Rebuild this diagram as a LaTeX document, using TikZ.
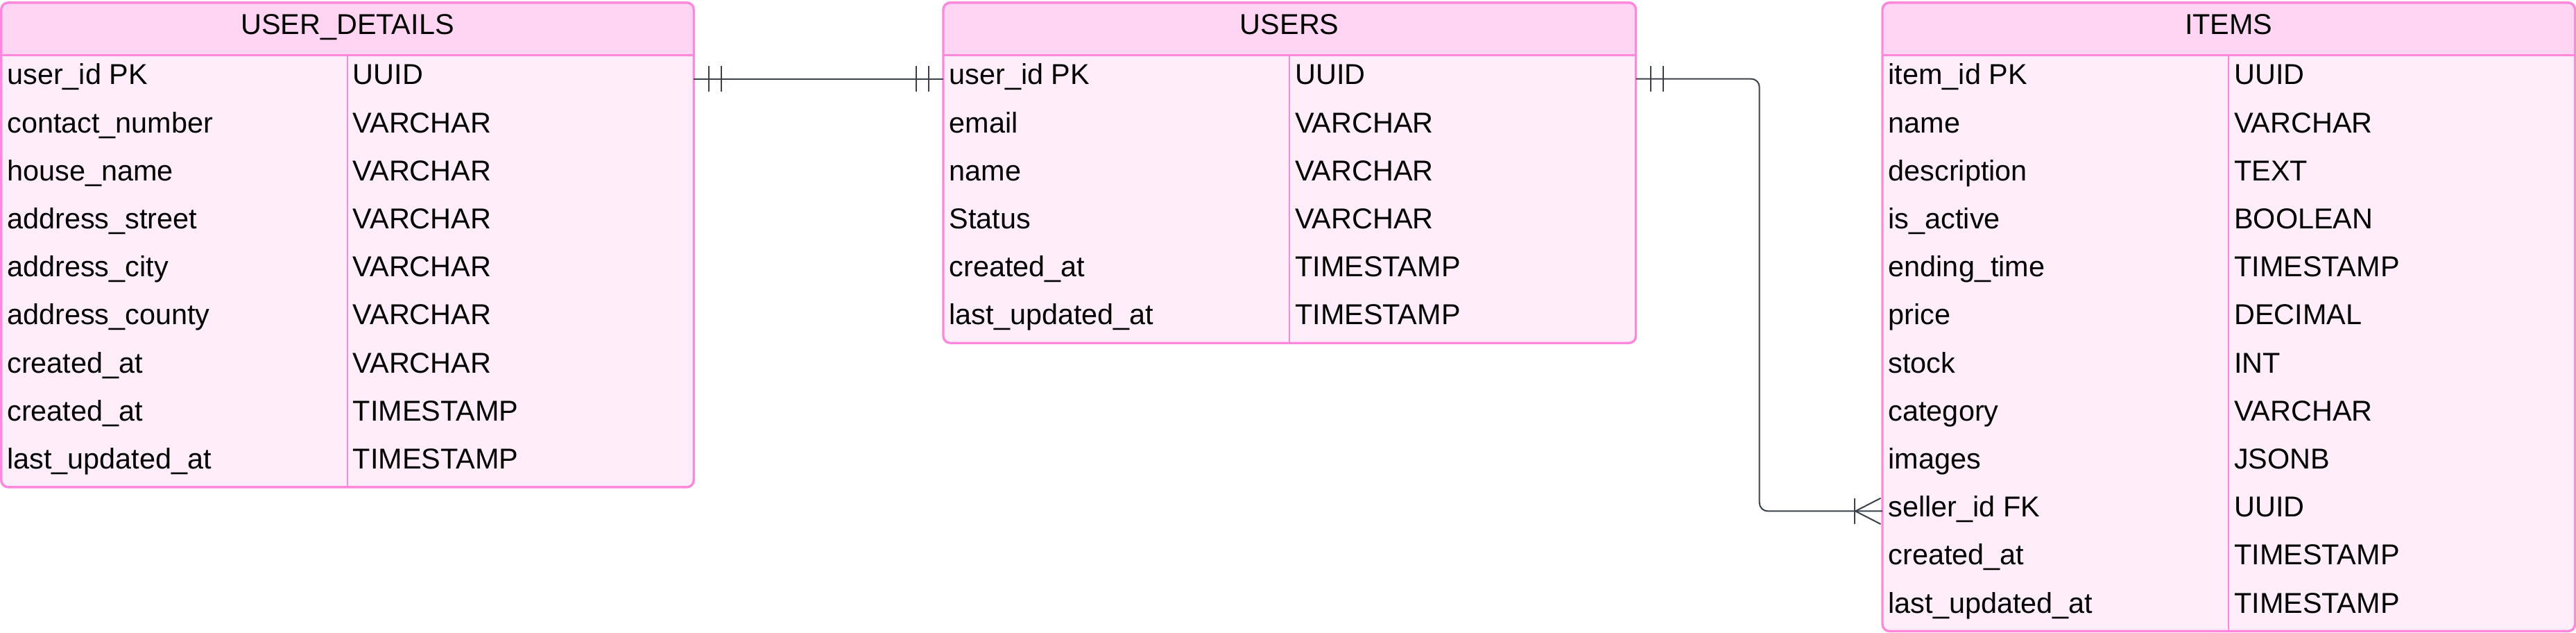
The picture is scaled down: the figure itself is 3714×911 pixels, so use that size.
\documentclass[tikz,border=0pt]{standalone}
\usepackage{fontspec}
\setmainfont{Liberation Sans}
\usetikzlibrary{calc}
\definecolor{headfill}{HTML}{FFD5F3}
\definecolor{bodyfill}{HTML}{FFEEFA}
\definecolor{erborder}{HTML}{FF88DD}
\definecolor{connline}{HTML}{3A414B}
\tikzset{
  tablebox/.style={draw=erborder, line width=1.7pt, rounded corners=5pt, minimum width=499.25pt, inner sep=0pt, outer sep=0pt},
  sepline/.style={draw=erborder, line width=1.5pt},
  colline/.style={draw=erborder, line width=1pt},
  titletext/.style={anchor=base, inner sep=0pt, text=black},
  celltext/.style={anchor=base west, inner sep=0pt, text=black},
  conn/.style={draw=connline, line width=1pt},
}
\newcommand{\dbtable}[5]{%
  \pgfmathsetmacro{\dbbot}{79+#5*69.2}%
  \pgfmathsetmacro{\dbright}{#2+998.5}%
  \pgfmathsetmacro{\dbcx}{#2+499.25}%
  \pgfmathsetmacro{\dbcy}{(3.8+\dbbot)/2}%
  \pgfmathsetmacro{\dbh}{(\dbbot-3.8)*0.5}%
  \begin{scope}
    \clip[rounded corners=5pt] (#2,3.8) rectangle (\dbright,\dbbot);
    \fill[headfill] (#2,3.8) rectangle (\dbright,79);
    \fill[bodyfill] (#2,79) rectangle (\dbright,\dbbot);
  \end{scope}
  \draw[sepline] (#2,79) -- (\dbright,79);
  \draw[colline] (\dbcx,79) -- (\dbcx,\dbbot);
  \node[tablebox, minimum height=\dbh pt] (#1) at (\dbcx,\dbcy) {};
  \node[titletext] (#1-title) at (\dbcx,49.3) {#3};
  \foreach \f/\t [count=\i] in {#4} {
    \coordinate (#1-r\i) at (\dbcx,{79+(\i-0.5)*69.2});
    \node[celltext] (#1-f\i) at ({#2+8.3},{79+(\i-0.5)*69.2+8.3}) {\f};
    \node[celltext] (#1-t\i) at ({#2+506.8},{79+(\i-0.5)*69.2+8.3}) {\t};
  }
}
\begin{document}
\begin{tikzpicture}[x=0.5pt, y=-0.5pt, font=\fontsize{20.7pt}{24pt}\selectfont]
\useasboundingbox (0,0) rectangle (3714,911);
\dbtable{ud}{1.7}{USER\_DETAILS}{user\_id PK/UUID, contact\_number/VARCHAR, house\_name/VARCHAR, address\_street/VARCHAR, address\_city/VARCHAR, address\_county/VARCHAR, created\_at/VARCHAR, created\_at/TIMESTAMP, last\_updated\_at/TIMESTAMP}{9}
\dbtable{us}{1360}{USERS}{user\_id PK/UUID, email/VARCHAR, name/VARCHAR, Status/VARCHAR, created\_at/TIMESTAMP, last\_updated\_at/TIMESTAMP}{6}
\dbtable{it}{2714}{ITEMS}{item\_id PK/UUID, name/VARCHAR, description/TEXT, is\_active/BOOLEAN, ending\_time/TIMESTAMP, price/DECIMAL, stock/INT, category/VARCHAR, images/JSONB, seller\_id FK/UUID, created\_at/TIMESTAMP, last\_updated\_at/TIMESTAMP}{12}
% connector USER_DETAILS -- USERS (one and only one on both ends)
\draw[conn] (ud.east |- ud-r1) -- (us.west |- us-r1);
\draw[conn] ($(ud.east |- ud-r1)+(21.5,-18.3)$) -- ++(0,36.6);
\draw[conn] ($(ud.east |- ud-r1)+(39.8,-18.3)$) -- ++(0,36.6);
\draw[conn] ($(us.west |- us-r1)+(-21,-18.3)$) -- ++(0,36.6);
\draw[conn] ($(us.west |- us-r1)+(-39.3,-18.3)$) -- ++(0,36.6);
% connector USERS -- ITEMS (one to many)
\coordinate (bend) at (2536.7,113.3);
\draw[conn, rounded corners=6pt] (us.east |- us-r1) -| (bend |- it-r10) -- (it.west |- it-r10);
\draw[conn] ($(us.east |- us-r1)+(21.5,-18.3)$) -- ++(0,36.6);
\draw[conn] ($(us.east |- us-r1)+(39.8,-18.3)$) -- ++(0,36.6);
\draw[conn] ($(it.west |- it-r10)+(-40,-18.7)$) -- ++(0,37.4);
\draw[conn] ($(it.west |- it-r10)+(-2.5,-18.7)$) -- ($(it.west |- it-r10)+(-39,0)$) -- ($(it.west |- it-r10)+(-2.5,18.7)$);
\end{tikzpicture}
\end{document}
